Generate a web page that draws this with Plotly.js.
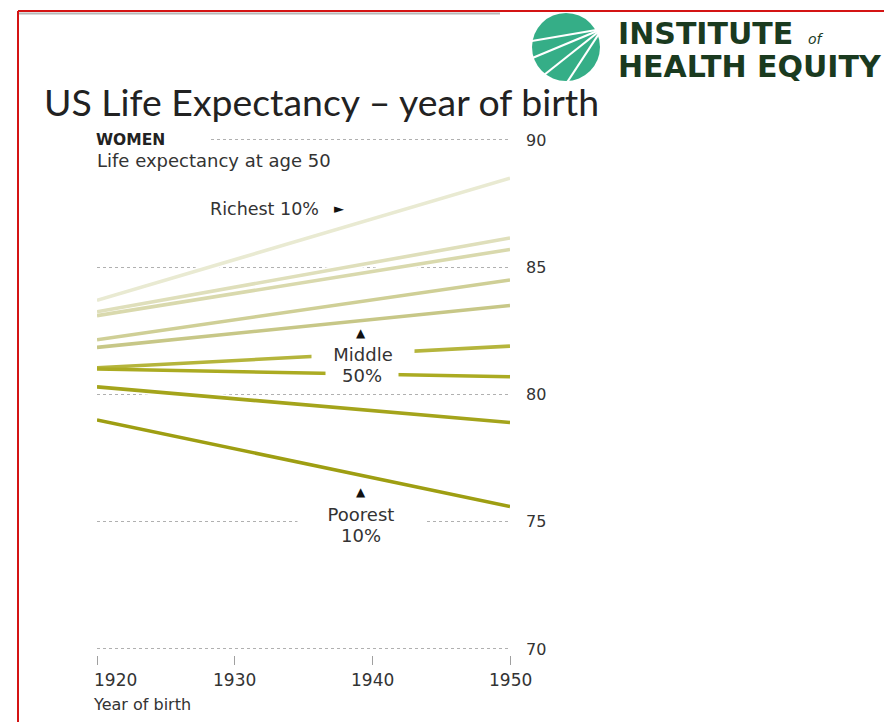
<!DOCTYPE html>
<html><head><meta charset="utf-8">
<script src="https://cdn.plot.ly/plotly-3.0.1.min.js"></script>
<style>html,body{margin:0;padding:0;background:#fff;} #chart{width:884px;height:722px;}</style>
</head><body><div id="chart"></div>
<script>
// ---- data ----
const birthYears = [1920, 1950];
const richest10 = [83.7, 88.5];
const decile9 = [83.25, 86.15];
const decile8 = [83.1, 85.7];
const decile7 = [82.15, 84.5];
const decile6 = [81.85, 83.5];
const decile5 = [81.05, 81.9];
const decile4 = [81.0, 80.7];
const decile3 = [80.3, 78.9];
const poorest10 = [79.0, 75.6];
const yTicks = [70, 75, 80, 85, 90];
const xTicks = [1920, 1930, 1940, 1950];
const xTickText = ['1920', '1930', '1940', '1950'];

// ---- styles ----
const series = [richest10, decile9, decile8, decile7, decile6, decile5, decile4, decile3, poorest10];
const colors = ['#e9ead2', '#dfdfbb', '#d9d9ad', '#cfcf96', '#c7c787', '#b5b53c', '#abab22', '#a4a41b', '#9e9e12'];

const W = 884, H = 722;
const px = x => x / W;
const py = y => 1 - y / H;
const txtFont = 'DejaVu Sans, Liberation Sans, sans-serif';
const unitPx = (649 - 140) / 20;
const pad = 0.1;

const traces = [];
series.forEach(s => traces.push({x: birthYears, y: s, mode: 'lines', line: {color: '#ffffff', width: 7}, hoverinfo: 'skip'}));
series.forEach((s, i) => traces.push({x: birthYears, y: s, mode: 'lines', line: {color: colors[i], width: 3.6}, hoverinfo: 'skip'}));

const ann = [];
function T(text, x, y, o) {
  ann.push(Object.assign({text, x: px(x), y: py(y), xref: 'paper', yref: 'paper', showarrow: false,
    xanchor: 'center', yanchor: 'middle', font: {family: txtFont, size: 16, color: '#333'}}, o || {}));
}
// title + logo text
T('US Life Expectancy \u2013 year of birth', 42, 102, {xanchor: 'left', font: {family: 'Lato, sans-serif', size: 37.4, color: '#222'}});
T('<b>INSTITUTE</b>', 616, 34, {xanchor: 'left', font: {family: 'DejaVu Sans, sans-serif', size: 30, color: '#1a3a1f'}});
T('<i>of</i>', 806, 39, {xanchor: 'left', font: {family: 'DejaVu Sans, sans-serif', size: 14, color: '#1a3a1f'}});
T('<b>HEALTH EQUITY</b>', 616, 66, {xanchor: 'left', font: {family: 'DejaVu Sans, sans-serif', size: 30, color: '#1a3a1f'}});
// chart labels
T('<b>WOMEN</b>', 95, 140, {xanchor: 'left', align: 'left', width: 114, bgcolor: '#ffffff', borderpad: 0, font: {family: txtFont, size: 15.5, color: '#222'}});
T('Life expectancy at age 50', 95, 160, {xanchor: 'left', font: {family: txtFont, size: 18, color: '#333'}});
T('Richest 10%', 264, 209, {font: {family: txtFont, size: 17.5, color: '#333'}});
T('\u25BA', 339, 208, {font: {family: txtFont, size: 13, color: '#111'}});
T('Middle', 363, 354, {width: 100, bgcolor: '#ffffff', font: {family: txtFont, size: 18, color: '#333'}});
T('50%', 362, 375, {width: 70, bgcolor: '#ffffff', font: {family: txtFont, size: 18, color: '#333'}});
T('\u25B2', 361, 333, {font: {family: txtFont, size: 12, color: '#111'}});
T('Poorest', 361, 514, {width: 124, bgcolor: '#ffffff', font: {family: txtFont, size: 18, color: '#333'}});
T('10%', 361, 535, {font: {family: txtFont, size: 18, color: '#333'}});
T('\u25B2', 361, 492, {font: {family: txtFont, size: 12, color: '#111'}});
T('Year of birth', 91, 704, {xanchor: 'left', font: {family: txtFont, size: 16, color: '#333'}});
// x tick labels from the tick arrays
xTicks.forEach((v, i) => {
  ann.push({text: xTickText[i], x: v, xref: 'x', y: py(680), yref: 'paper', showarrow: false,
    xanchor: i === 0 ? 'left' : 'center', xshift: i === 0 ? -5 : 0, yanchor: 'middle',
    font: {family: txtFont, size: 17, color: '#333'}});
});

const shapes = [
  {type: 'line', xref: 'paper', yref: 'paper', x0: px(18), x1: px(884), y0: py(11), y1: py(11), line: {color: '#d41414', width: 2}},
  {type: 'line', xref: 'paper', yref: 'paper', x0: px(18), x1: px(18), y0: py(11), y1: py(722), line: {color: '#d41414', width: 2}},
  {type: 'line', xref: 'paper', yref: 'paper', x0: px(19), x1: px(500), y0: py(13.5), y1: py(13.5), line: {color: '#9a9a9a', width: 2}, opacity: 0.7},
  {type: 'circle', xref: 'paper', yref: 'paper', x0: px(532), x1: px(600), y0: py(81), y1: py(13), fillcolor: '#35ae87', line: {width: 0}},
];
[[526, 42], [530, 59], [544, 75], [566, 84]].forEach(p => shapes.push({type: 'line', xref: 'paper', yref: 'paper',
  x0: px(602), y0: py(29), x1: px(p[0]), y1: py(p[1]), line: {color: '#ffffff', width: 2.2}}));

const layout = {
  width: W, height: H, margin: {l: 0, r: 0, t: 0, b: 0},
  paper_bgcolor: '#ffffff', plot_bgcolor: 'rgba(0,0,0,0)', showlegend: false,
  xaxis: {domain: [px(97), px(510)], range: [1920, 1950], anchor: 'free', position: py(655),
    tickvals: xTicks, ticks: 'outside', ticklen: 9, tickwidth: 1, tickcolor: '#a0a0a0',
    showticklabels: false, showgrid: false, zeroline: false, showline: false, fixedrange: true},
  yaxis: {domain: [py(649 + pad * unitPx), py(140 - pad * unitPx)], range: [70 - pad, 90 + pad], side: 'right', tickvals: yTicks,
    ticks: '', ticklabelstandoff: 15, showgrid: true, gridcolor: '#b0b0b0', griddash: 'dot', gridwidth: 1,
    zeroline: false, showline: false, fixedrange: true,
    tickfont: {family: txtFont, size: 16, color: '#333'}},
  annotations: ann, shapes: shapes
};
Plotly.newPlot('chart', traces, layout, {displayModeBar: false, staticPlot: true});
</script></body></html>
